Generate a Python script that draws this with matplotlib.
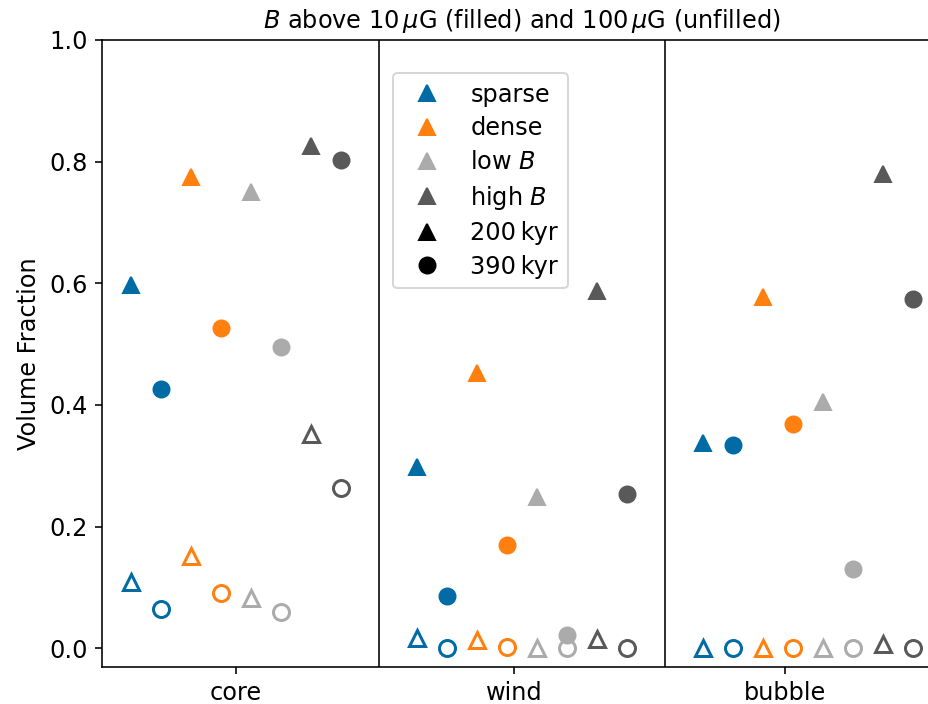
import matplotlib
matplotlib.use("Agg")
import matplotlib.pyplot as plt
from matplotlib.lines import Line2D

plt.rcParams['font.size'] = 12

regions = ["core", "wind", "bubble"]
runs = ["sparse", "dense", "low $B$", "high $B$"]
colours = ["#006BA4", "#FF800E", "#ABABAB", "#595959"]

# volume fraction with B > 10 uG (filled), rows = region, cols = run
frac10_200kyr = [[0.597, 0.775, 0.750, 0.826],
                 [0.298, 0.452, 0.248, 0.587],
                 [0.337, 0.577, 0.405, 0.780]]
frac10_390kyr = [[0.426, 0.526, 0.495, 0.803],
                 [0.086, 0.169, 0.021, 0.253],
                 [0.334, 0.368, 0.130, 0.574]]
# volume fraction with B > 100 uG (unfilled)
frac100_200kyr = [[0.109, 0.151, 0.082, 0.352],
                  [0.017, 0.014, 0.0, 0.015],
                  [0.0, 0.0, 0.0, 0.007]]
frac100_390kyr = [[0.064, 0.090, 0.059, 0.263],
                  [0.001, 0.002, 0.0, 0.001],
                  [0.0, 0.0, 0.0, 0.0]]

group_step = 9.5
ms = 8

fig = plt.figure(figsize=(928 / 144, 704 / 144), dpi=144)
ax = fig.add_axes([102 / 928, 37 / 704, 840 / 928, 627 / 704])

for g in range(len(regions)):
    x0 = g * group_step
    for i, c in enumerate(colours):
        xa = x0 + 2 * i
        xb = x0 + 2 * i + 1
        ax.plot(xa, frac10_200kyr[g][i], '^', color=c, ms=ms)
        ax.plot(xb, frac10_390kyr[g][i], 'o', color=c, ms=ms)
        ax.plot(xa, frac100_200kyr[g][i], '^', color=c, ms=ms, mfc='none', mew=1.5)
        ax.plot(xb, frac100_390kyr[g][i], 'o', color=c, ms=ms, mfc='none', mew=1.5)

for g in range(1, len(regions)):
    ax.axvline(g * group_step - 1.25, color='k', lw=0.8)

ax.set_xlim(-0.96, 26.96)
ax.set_ylim(-0.031, 1.0)
ax.set_xticks([3.5, 12.75, 21.75])
ax.set_xticklabels(regions)
ax.set_ylabel("Volume Fraction")
ax.set_title(r"$B$ above 10$\,\mu$G (filled) and 100$\,\mu$G (unfilled)", fontsize=12)

handles = [Line2D([], [], ls='none', marker='^', color=c, ms=ms) for c in colours]
handles.append(Line2D([], [], ls='none', marker='^', color='k', ms=ms))
handles.append(Line2D([], [], ls='none', marker='o', color='k', ms=ms))
labels = runs + ["200\u2009kyr", "390\u2009kyr"]
ax.legend(handles, labels, loc='upper left', bbox_to_anchor=(0.347, 0.947),
          borderaxespad=0, labelspacing=0.4)

fig.savefig("out.png", dpi=144)
